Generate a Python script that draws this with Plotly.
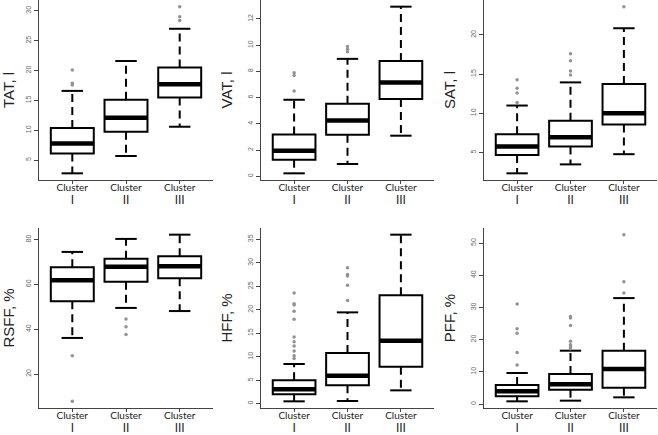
import plotly.graph_objects as go
from plotly.subplots import make_subplots

CLUSTERS = ["I", "II", "III"]
PANELS = ["TAT, l", "VAT, l", "SAT, l", "RSFF, %", "HFF, %", "PFF, %"]

# per panel: lower whisker, q1, median, q3, upper whisker, outliers per cluster
TAT_LOWER = [2.8, 5.7, 10.6]
TAT_Q1 = [6.1, 9.75, 15.5]
TAT_MEDIAN = [7.8, 12.1, 17.7]
TAT_Q3 = [10.4, 15.1, 20.5]
TAT_UPPER = [16.6, 21.6, 27.0]
TAT_OUT = [[20.1, 17.9, 17.6], [], [30.7, 29.0, 28.4]]

VAT_LOWER = [0.23, 0.94, 3.1]
VAT_Q1 = [1.27, 3.17, 5.89]
VAT_MEDIAN = [1.95, 4.26, 7.16]
VAT_Q3 = [3.2, 5.53, 8.8]
VAT_UPPER = [5.84, 8.96, 12.94]
VAT_OUT = [[7.9, 7.7, 6.5], [9.9, 9.7, 9.5], []]

SAT_LOWER = [2.36, 3.5, 4.8]
SAT_Q1 = [4.7, 5.77, 8.58]
SAT_MEDIAN = [5.77, 6.96, 10.03]
SAT_Q3 = [7.34, 9.05, 13.73]
SAT_UPPER = [11.0, 13.95, 20.85]
SAT_OUT = [[14.3, 13.2, 12.6, 11.4], [17.6, 16.7, 15.4, 14.9], [23.6]]

RSFF_LOWER = [36.1, 49.5, 48.1]
RSFF_Q1 = [52.5, 61.2, 62.7]
RSFF_MEDIAN = [61.8, 67.9, 68.1]
RSFF_Q3 = [67.6, 71.5, 72.6]
RSFF_UPPER = [74.5, 80.3, 82.2]
RSFF_OUT = [[28.2, 7.8], [44.6, 41.1, 37.6], []]

HFF_LOWER = [0.5, 0.57, 2.84]
HFF_Q1 = [2.0, 3.9, 7.88]
HFF_MEDIAN = [3.05, 5.96, 13.4]
HFF_Q3 = [4.97, 10.8, 23.07]
HFF_UPPER = [8.45, 19.45, 36.0]
HFF_OUT = [[23.6, 21.3, 21.0, 19.7, 18.0, 14.2, 13.2, 12.3, 11.2, 10.2, 9.6],
           [28.96, 27.5, 27.2, 25.2, 22.0], []]

PFF_LOWER = [0.83, 1.04, 2.07]
PFF_Q1 = [2.38, 4.45, 5.07]
PFF_MEDIAN = [3.93, 6.1, 10.87]
PFF_Q3 = [5.9, 9.32, 16.56]
PFF_UPPER = [9.63, 16.56, 32.9]
PFF_OUT = [[31.1, 23.4, 22.0, 16.0, 12.1],
           [27.2, 26.7, 24.4, 19.5, 18.4, 17.8, 17.2], [52.6, 38.0, 34.5]]

TAT_TICKS = [5, 10, 15, 20, 25, 30]
VAT_TICKS = [0, 2, 4, 6, 8, 10, 12]
SAT_TICKS = [5, 10, 15, 20]
RSFF_TICKS = [20, 40, 60, 80]
HFF_TICKS = [0, 5, 10, 15, 20, 25, 30, 35]
PFF_TICKS = [0, 10, 20, 30, 40, 50]

panel_data = [
    (TAT_LOWER, TAT_Q1, TAT_MEDIAN, TAT_Q3, TAT_UPPER, TAT_OUT, TAT_TICKS),
    (VAT_LOWER, VAT_Q1, VAT_MEDIAN, VAT_Q3, VAT_UPPER, VAT_OUT, VAT_TICKS),
    (SAT_LOWER, SAT_Q1, SAT_MEDIAN, SAT_Q3, SAT_UPPER, SAT_OUT, SAT_TICKS),
    (RSFF_LOWER, RSFF_Q1, RSFF_MEDIAN, RSFF_Q3, RSFF_UPPER, RSFF_OUT, RSFF_TICKS),
    (HFF_LOWER, HFF_Q1, HFF_MEDIAN, HFF_Q3, HFF_UPPER, HFF_OUT, HFF_TICKS),
    (PFF_LOWER, PFF_Q1, PFF_MEDIAN, PFF_Q3, PFF_UPPER, PFF_OUT, PFF_TICKS),
]

W, H = 658, 435
col_px = [(39, 213), (261, 434), (484, 657)]
row_px = [(0, 180), (228, 408)]

fig = make_subplots(rows=2, cols=3)
BOXW = 0.8
CAPW = 0.4
ticktext = ["Cluster<br><span style='font-family:Liberation Sans;font-size:12px'>" + c + "</span>"
            for c in CLUSTERS]

for p, (lo, q1, med, q3, up, outs, ticks) in enumerate(panel_data):
    r, c = p // 3 + 1, p % 3 + 1
    pos = list(range(1, len(CLUSTERS) + 1))
    # boxes (no built-in whiskers)
    fig.add_trace(go.Box(x=pos, q1=q1, median=med, q3=q3, lowerfence=q1, upperfence=q3,
                         width=BOXW, whiskerwidth=0, fillcolor="white",
                         line=dict(color="black", width=2), hoverinfo="skip",
                         showlegend=False), row=r, col=c)
    # thick medians
    mx, my = [], []
    for i, x in enumerate(pos):
        mx += [x - BOXW / 2, x + BOXW / 2, None]
        my += [med[i], med[i], None]
    fig.add_trace(go.Scatter(x=mx, y=my, mode="lines", line=dict(color="black", width=4.5),
                             showlegend=False, hoverinfo="skip"), row=r, col=c)
    # dashed whiskers
    wx, wy = [], []
    for i, x in enumerate(pos):
        wx += [x, x, None, x, x, None]
        wy += [q3[i], up[i], None, q1[i], lo[i], None]
    fig.add_trace(go.Scatter(x=wx, y=wy, mode="lines",
                             line=dict(color="black", width=2, dash="8px,5px"),
                             showlegend=False, hoverinfo="skip"), row=r, col=c)
    # caps
    cx, cy = [], []
    for i, x in enumerate(pos):
        cx += [x - CAPW / 2, x + CAPW / 2, None, x - CAPW / 2, x + CAPW / 2, None]
        cy += [up[i], up[i], None, lo[i], lo[i], None]
    fig.add_trace(go.Scatter(x=cx, y=cy, mode="lines", line=dict(color="black", width=2),
                             showlegend=False, hoverinfo="skip"), row=r, col=c)
    # outliers
    ox, oy = [], []
    for i, x in enumerate(pos):
        ox += [x] * len(outs[i])
        oy += outs[i]
    fig.add_trace(go.Scatter(x=ox, y=oy, mode="markers",
                             marker=dict(color="#939393", size=3.5),
                             showlegend=False, hoverinfo="skip"), row=r, col=c)

    allv = lo + up + [v for o in outs for v in o]
    vmin, vmax = min(allv), max(allv)
    pad = 0.04 * (vmax - vmin)
    x0, x1 = col_px[c - 1]
    y0, y1 = row_px[r - 1]
    fig.update_xaxes(domain=[x0 / W, x1 / W], range=[0.38, 3.62], automargin=False,
                     tickvals=pos, ticktext=ticktext,
                     showline=True, linecolor="#444", linewidth=1,
                     ticks="outside", ticklen=3, tickcolor="#444",
                     ticklabelstandoff=-5,
                     tickfont=dict(family="Lato", size=10, color="#222"),
                     showgrid=False, zeroline=False, fixedrange=True, row=r, col=c)
    fig.update_yaxes(domain=[1 - y1 / H, 1 - y0 / H], range=[vmin - pad, vmax + pad],
                     automargin=False,
                     tickvals=ticks, tickangle=-90,
                     showline=True, linecolor="#444", linewidth=1,
                     ticks="outside", ticklen=4, tickcolor="#444",
                     tickfont=dict(family="Liberation Sans", size=7, color="#666"),
                     title=dict(text=PANELS[p], standoff=10,
                                font=dict(family="Liberation Sans", size=15, color="#222")),
                     showgrid=False, zeroline=False, fixedrange=True, row=r, col=c)

fig.update_layout(width=W, height=H, margin=dict(l=0, r=0, t=0, b=0),
                  template="none",
                  plot_bgcolor="white", paper_bgcolor="white", boxmode="overlay")
fig.write_html("out.html", config={"displayModeBar": False},
               post_script="document.body.style.margin='0';document.body.style.overflow='hidden';")
